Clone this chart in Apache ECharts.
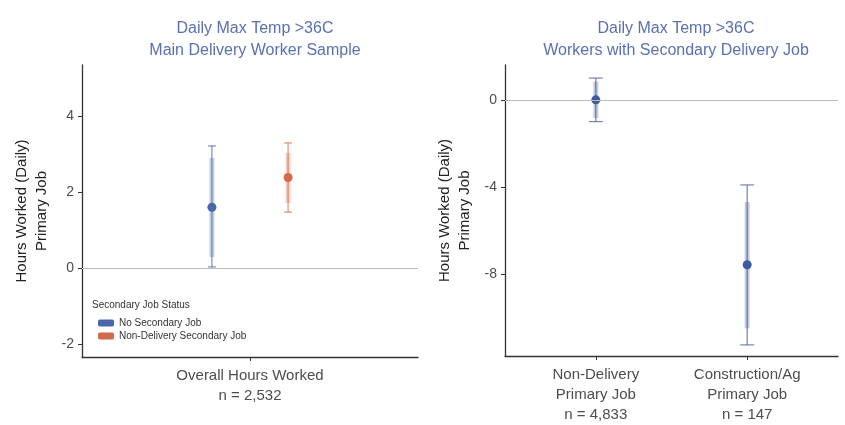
<!DOCTYPE html>
<html>
<head>
<meta charset="utf-8">
<script src="https://cdn.jsdelivr.net/npm/echarts@6/dist/echarts.min.js"></script>
<style>
  html, body { margin: 0; padding: 0; background: #fff; }
  #chart { width: 845px; height: 425px; }
</style>
</head>
<body>
<div id="chart"></div>
<script>
// left panel: main delivery worker sample
var leftCategories = ['Overall Hours Worked\nn = 2,532'];
var leftGroups = ['No Secondary Job', 'Non-Delivery Secondary Job'];
var leftEstimate = [1.6, 2.38];
var leftLow95 = [0.03, 1.47];
var leftHigh95 = [3.21, 3.29];
var leftLow90 = [0.29, 1.71];
var leftHigh90 = [2.90, 3.03];
var leftTicks = [-2, 0, 2, 4];

// right panel: workers with secondary delivery job
var rightCategories = ['Non-Delivery\nPrimary Job\nn = 4,833', 'Construction/Ag\nPrimary Job\nn = 147'];
var rightEstimate = [0.0, -7.58];
var rightLow95 = [-1.0, -11.26];
var rightHigh95 = [1.0, -3.91];
var rightLow90 = [-0.84, -10.5];
var rightHigh90 = [0.84, -4.7];
var rightTicks = [-8, -4, 0];

var blue = '#4a67ac';
var orange = '#d56a4a';
var font = 'Liberation Sans';
var dodge = 0.136;

var chart = echarts.init(document.getElementById('chart'));

function pointRange(color, capHalf)
{
	return function(params, api)
	{
		var x = api.value(0);
		var pE = api.coord([x, api.value(1)]);
		var pLo = api.coord([x, api.value(2)]);
		var pHi = api.coord([x, api.value(3)]);
		var p9l = api.coord([x, api.value(4)]);
		var p9h = api.coord([x, api.value(5)]);
		var thin = {stroke: color, lineWidth: 1.2, opacity: 0.75};
		return {
			type: 'group',
			children: [
				{type: 'line', shape: {x1: pLo[0], y1: pLo[1], x2: pHi[0], y2: pHi[1]}, style: thin},
				{type: 'line', shape: {x1: pLo[0] - capHalf, y1: pLo[1], x2: pLo[0] + capHalf, y2: pLo[1]}, style: thin},
				{type: 'line', shape: {x1: pHi[0] - capHalf, y1: pHi[1], x2: pHi[0] + capHalf, y2: pHi[1]}, style: thin},
				{type: 'line', shape: {x1: p9l[0], y1: p9l[1], x2: p9h[0], y2: p9h[1]}, style: {stroke: color, lineWidth: 5, opacity: 0.3}},
				{type: 'circle', shape: {cx: pE[0], cy: pE[1], r: 4.5}, style: {fill: color}}
			]
		};
	};
}

function zeroLine(xi)
{
	return {
		type: 'line', xAxisIndex: xi, yAxisIndex: xi, data: [], z: 1, silent: true,
		markLine: {
			silent: true, symbol: 'none', label: {show: false},
			lineStyle: {color: '#bdbdbd', type: 'solid', width: 1},
			data: [{yAxis: 0}]
		}
	};
}

function yAxisOf(gi, min, max, ticks)
{
	return {
		type: 'value', gridIndex: gi, min: min, max: max,
		name: 'Hours Worked (Daily)\nPrimary Job', nameLocation: 'middle', nameRotate: 90, nameGap: 30,
		nameTextStyle: {color: '#222', fontSize: 15, lineHeight: 20, fontFamily: font},
		splitLine: {show: false},
		axisLine: {show: true, lineStyle: {color: '#333', width: 1.3}},
		axisTick: {show: true, length: 4, customValues: ticks, lineStyle: {color: '#333'}},
		axisLabel: {customValues: ticks, fontSize: 14, margin: 8, color: '#4d4d4d', fontFamily: font}
	};
}

function xAxisOf(gi, max, cats)
{
	var pos = cats.map(function(c, i){ return i + 1; });
	return {
		type: 'value', gridIndex: gi, min: 0.4, max: max,
		splitLine: {show: false},
		axisLine: {show: true, onZero: false, lineStyle: {color: '#333', width: 1.3}},
		axisTick: {show: true, length: 4, customValues: pos, lineStyle: {color: '#333'}},
		axisLabel: {
			customValues: pos, fontSize: 15, lineHeight: 20, margin: 9,
			color: '#4d4d4d', fontFamily: font,
			formatter: function(v){ return cats[Math.round(v) - 1]; }
		}
	};
}

var series = [zeroLine(0), zeroLine(1)];
leftGroups.forEach(function(name, i){
	var c = i == 0 ? blue : orange;
	series.push({
		type: 'custom', name: name, xAxisIndex: 0, yAxisIndex: 0, z: 2,
		itemStyle: {color: c},
		renderItem: pointRange(c, 4),
		data: [[1 + (i == 0 ? -dodge : dodge), leftEstimate[i], leftLow95[i], leftHigh95[i], leftLow90[i], leftHigh90[i]]]
	});
});
series.push({
	type: 'custom', name: 'secondary', xAxisIndex: 1, yAxisIndex: 1, z: 2,
	renderItem: pointRange('#3f5a9f', 7),
	data: rightCategories.map(function(c, j){
		return [j + 1, rightEstimate[j], rightLow95[j], rightHigh95[j], rightLow90[j], rightHigh90[j]];
	})
});

var titleStyle = {color: '#5a70b2', fontSize: 16, lineHeight: 22, fontWeight: 'normal', fontFamily: font};

chart.setOption({
	animation: false,
	title: [
		{text: 'Daily Max Temp >36C\nMain Delivery Worker Sample', left: 250, top: 13, textAlign: 'center', textStyle: titleStyle},
		{text: 'Daily Max Temp >36C\nWorkers with Secondary Delivery Job', left: 671, top: 13, textAlign: 'center', textStyle: titleStyle}
	],
	legend: {
		data: leftGroups, orient: 'vertical', left: 93, top: 313,
		itemWidth: 16, itemHeight: 7, itemGap: 3, icon: 'roundRect',
		textStyle: {fontSize: 10, color: '#333', fontFamily: font}
	},
	graphic: [{
		type: 'text', left: 92, top: 300,
		style: {text: 'Secondary Job Status', fontSize: 10, fill: '#333', fontFamily: font}
	}],
	grid: [
		{left: 82, right: 427, top: 65, bottom: 68},
		{left: 505, right: 7, top: 65, bottom: 68}
	],
	xAxis: [xAxisOf(0, 1.6, leftCategories), xAxisOf(1, 2.6, rightCategories)],
	yAxis: [yAxisOf(0, -2.34, 5.34, leftTicks), yAxisOf(1, -11.77, 1.6, rightTicks)],
	series: series
});
</script>
</body>
</html>
